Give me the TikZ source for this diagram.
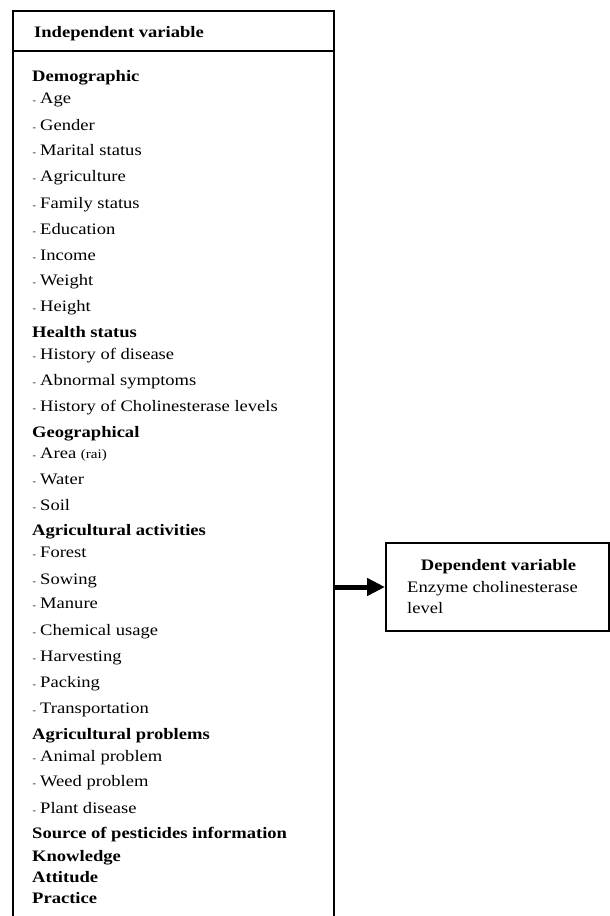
\documentclass[tikz,border=0pt]{standalone}
\usepackage{fontspec}
\setmainfont{Liberation Serif}[FakeStretch=1.16]
\usetikzlibrary{arrows.meta}
\newcommand\mainsz{\fontsize{16}{19}\selectfont}
\newcommand\dashsz{\fontsize{9}{9}\selectfont}
\newcommand\smallsz{\fontsize{13}{14}\selectfont}
\newcommand\dsh{\makebox[0pt][r]{\dashsz-\hspace{4.2pt}}}
\begin{document}
\begin{tikzpicture}[x=1pt,y=-1pt,
  hd/.style={anchor=base west, inner sep=0pt, font=\mainsz\bfseries},
  itm/.style={anchor=base west, inner sep=0pt, font=\mainsz},
  frame/.style={line width=2pt},
  depbox/.style={draw, line width=2pt, minimum width=223pt, minimum height=88pt, inner sep=0pt},
  arr/.style={line width=5pt, -{Triangle[length=18pt,width=17pt]}}
]
\useasboundingbox (0,0) rectangle (610,916);
% independent variable frame (open at bottom)
\coordinate (ivTL) at (12.5,10.5);
\coordinate (ivTR) at (333.5,10.5);
\coordinate (ivBL) at (12.5,916);
\coordinate (ivBR) at (333.5,916);
\coordinate (ivHL) at (12.5,51.4);
\coordinate (ivHR) at (333.5,51.4);
\coordinate (ivR) at (333.5,587);
\draw[frame] (ivBL) -- (ivTL) -- (ivTR) -- (ivBR);
\draw[frame] (ivHL) -- (ivHR);
\node[hd] (ivh) at (34,37) {Independent variable};
% group headings
\foreach \y/\t [count=\i] in {81.5/Demographic, 337.5/Health status, 437/Geographical,
  535.5/Agricultural activities, 739.5/Agricultural problems,
  838.5/Source of pesticides information, 861/Knowledge, 882.5/Attitude, 903/Practice}
  \node[hd] (h\i) at (32,\y) {\t};
% items
\foreach \y/\t [count=\i] in {103.5/Age, 130.5/Gender, 155.5/Marital status, 181.5/Agriculture,
  208/Family status, 234.5/Education, 260/Income, 285/Weight, 311.5/Height,
  359.5/History of disease, 385.5/Abnormal symptoms, 411.5/History of Cholinesterase levels,
  458/{Area {\smallsz(rai)}}, 484.5/Water, 510/Soil,
  557.5/Forest, 584.5/Sowing, 608.5/Manure, 635/Chemical usage, 661.5/Harvesting,
  687.5/Packing, 713.5/Transportation,
  761.5/Animal problem, 786.5/Weed problem, 813.5/Plant disease}
  \node[itm] (it\i) at (40,\y) {\dsh\t};
% dependent variable
\node[depbox] (dep) at (497.5,587) {};
\node[hd] (dept) at (420.7,570.5) {Dependent variable};
\node[itm] (enz) at (407,592.5) {Enzyme cholinesterase};
\node[itm] (lvl) at (407,613) {level};
\draw[arr] (ivR) -- (dep.west);
\end{tikzpicture}
\end{document}
